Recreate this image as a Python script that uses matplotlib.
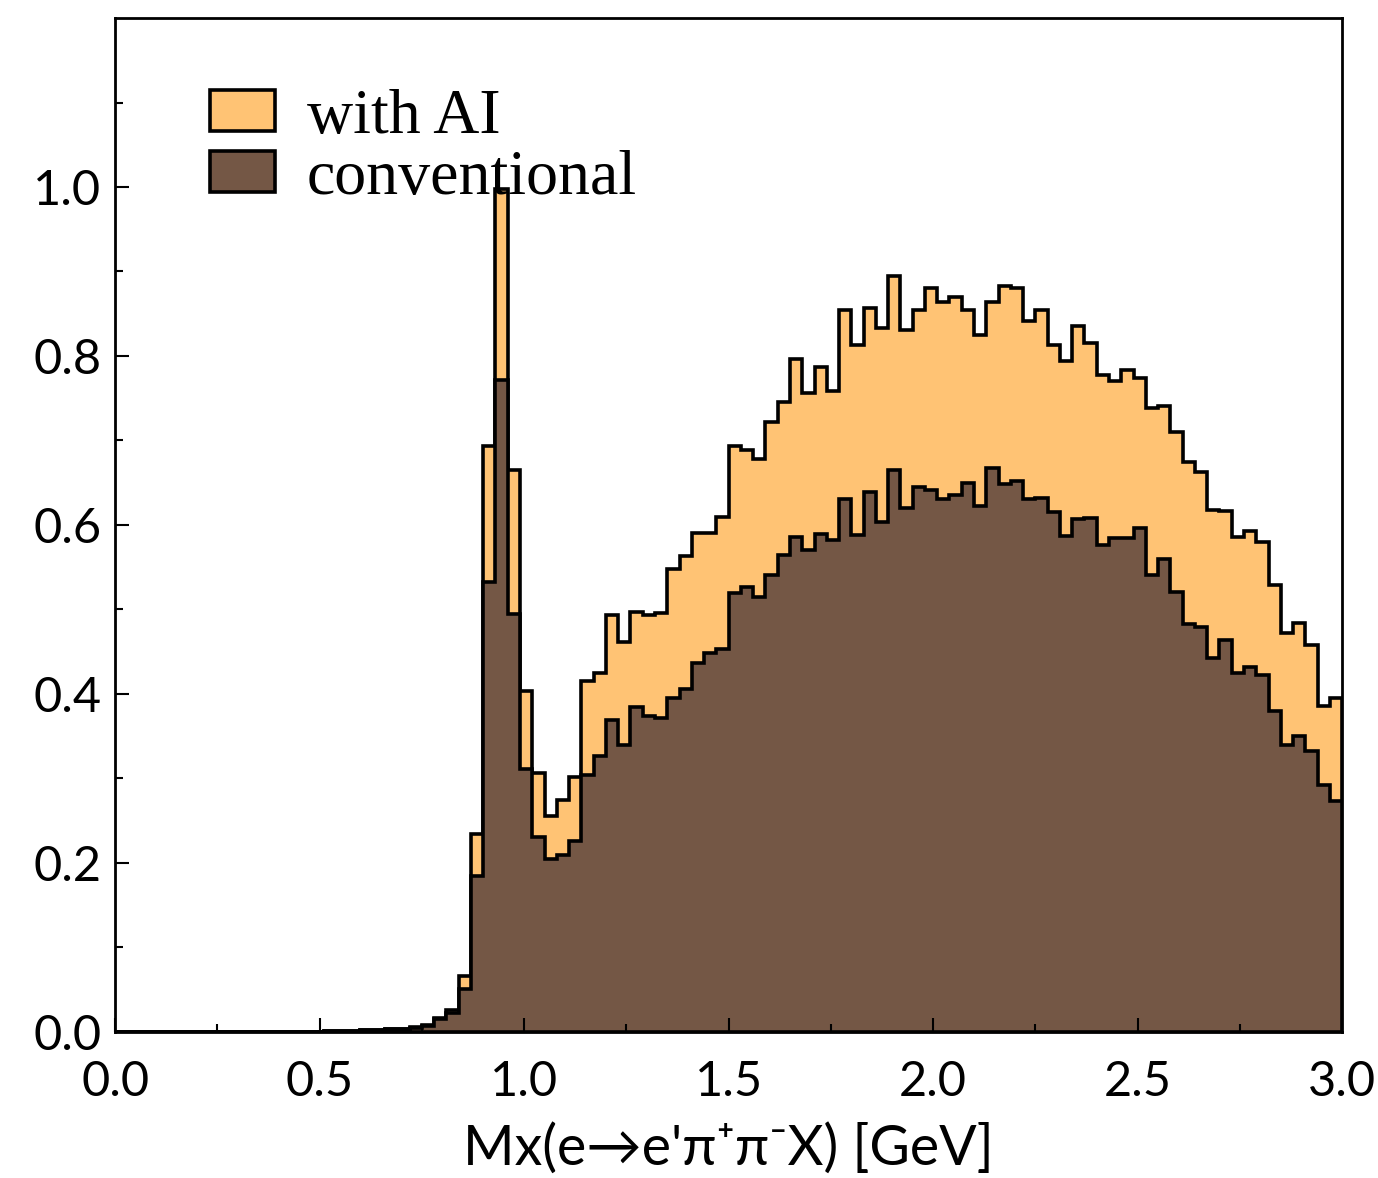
import numpy as np
import matplotlib
matplotlib.use("Agg")
import matplotlib.pyplot as plt

# histogram contents, 100 bins of 0.03 GeV from 0 to 3 GeV
bin_edges = np.linspace(0.0, 3.0, 101)

with_ai = [0.0] * 17 + [
    0.001, 0.001, 0.001, 0.002, 0.002, 0.003, 0.004, 0.006, 0.008,
    0.016, 0.026, 0.066, 0.234, 0.693, 0.998, 0.665, 0.403, 0.306, 0.256,
    0.275, 0.302, 0.415, 0.425, 0.493, 0.462,
    0.497, 0.493, 0.496, 0.548, 0.563, 0.591, 0.591, 0.609, 0.694, 0.689,
    0.678, 0.722, 0.745, 0.796, 0.756, 0.787, 0.758, 0.854, 0.813,
    0.857, 0.833, 0.895, 0.831, 0.854, 0.881, 0.864, 0.870, 0.854, 0.825,
    0.864, 0.883, 0.880, 0.841, 0.854, 0.813, 0.794, 0.836, 0.815,
    0.778, 0.770, 0.783, 0.774, 0.739, 0.741, 0.710, 0.674, 0.663, 0.618,
    0.617, 0.586, 0.593, 0.580, 0.529, 0.472, 0.484, 0.458, 0.386, 0.395,
]

conventional = [0.0] * 17 + [
    0.001, 0.001, 0.001, 0.002, 0.002, 0.003, 0.004, 0.005, 0.007,
    0.015, 0.022, 0.051, 0.185, 0.533, 0.771, 0.495, 0.311, 0.231, 0.205,
    0.209, 0.226, 0.304, 0.327, 0.369, 0.339,
    0.384, 0.374, 0.372, 0.395, 0.406, 0.437, 0.448, 0.453, 0.520, 0.526,
    0.515, 0.541, 0.564, 0.586, 0.570, 0.589, 0.582, 0.631, 0.588,
    0.639, 0.604, 0.665, 0.620, 0.645, 0.641, 0.631, 0.636, 0.650, 0.623,
    0.667, 0.649, 0.652, 0.631, 0.632, 0.615, 0.587, 0.607, 0.608,
    0.576, 0.585, 0.584, 0.597, 0.541, 0.560, 0.521, 0.483, 0.479, 0.443,
    0.464, 0.425, 0.432, 0.423, 0.380, 0.339, 0.350, 0.332, 0.292, 0.273,
]

labels = ["with AI", "conventional"]
colors = ["#FFC374", "#745745"]

sans = ["Lato", "DejaVu Sans"]

fig = plt.figure(figsize=(13.78, 11.78), dpi=100)
ax = fig.add_axes([0.0835, 0.124, 0.8905, 0.8607])

centers = 0.5 * (bin_edges[:-1] + bin_edges[1:])
for vals, lab, col in zip([with_ai, conventional], labels, colors):
    ax.hist(centers, bins=bin_edges, weights=vals, histtype="stepfilled",
            facecolor=col, edgecolor="black", linewidth=2.6, label=lab)

ax.set_xlim(0, 3.0)
ax.set_ylim(0, 1.2)
ax.set_xticks(np.arange(0, 3.01, 0.5))
ax.set_xticks(np.arange(0, 3.01, 0.25), minor=True)
ax.set_yticks(np.arange(0, 1.01, 0.2))
ax.set_yticks(np.arange(0, 1.11, 0.1), minor=True)
ax.set_xticklabels(["%.1f" % t for t in np.arange(0, 3.01, 0.5)])
ax.set_yticklabels(["%.1f" % t for t in np.arange(0, 1.01, 0.2)])
ax.tick_params(which="major", direction="in", length=10, width=1.5,
               labelsize=35)
ax.tick_params(axis="x", which="major", pad=20)
ax.tick_params(axis="y", which="major", pad=10)
ax.tick_params(which="minor", direction="in", length=6, width=1.5)
for lbl in ax.get_xticklabels() + ax.get_yticklabels():
    lbl.set_family(sans)
for sp in ax.spines.values():
    sp.set_linewidth(2.0)

ax.set_xlabel("Mx(e\u2192e'\u03c0\u207a\u03c0\u207bX) [GeV]", fontsize=40,
              family=sans, labelpad=14)

leg = ax.legend(loc="upper left", bbox_to_anchor=(0.077, 0.93), frameon=False,
                prop={"family": "Liberation Serif", "size": 46},
                handlelength=1.02, handleheight=0.62, handletextpad=0.5,
                labelspacing=0.05, borderpad=0, borderaxespad=0)

fig.savefig("out.png", dpi=100)
